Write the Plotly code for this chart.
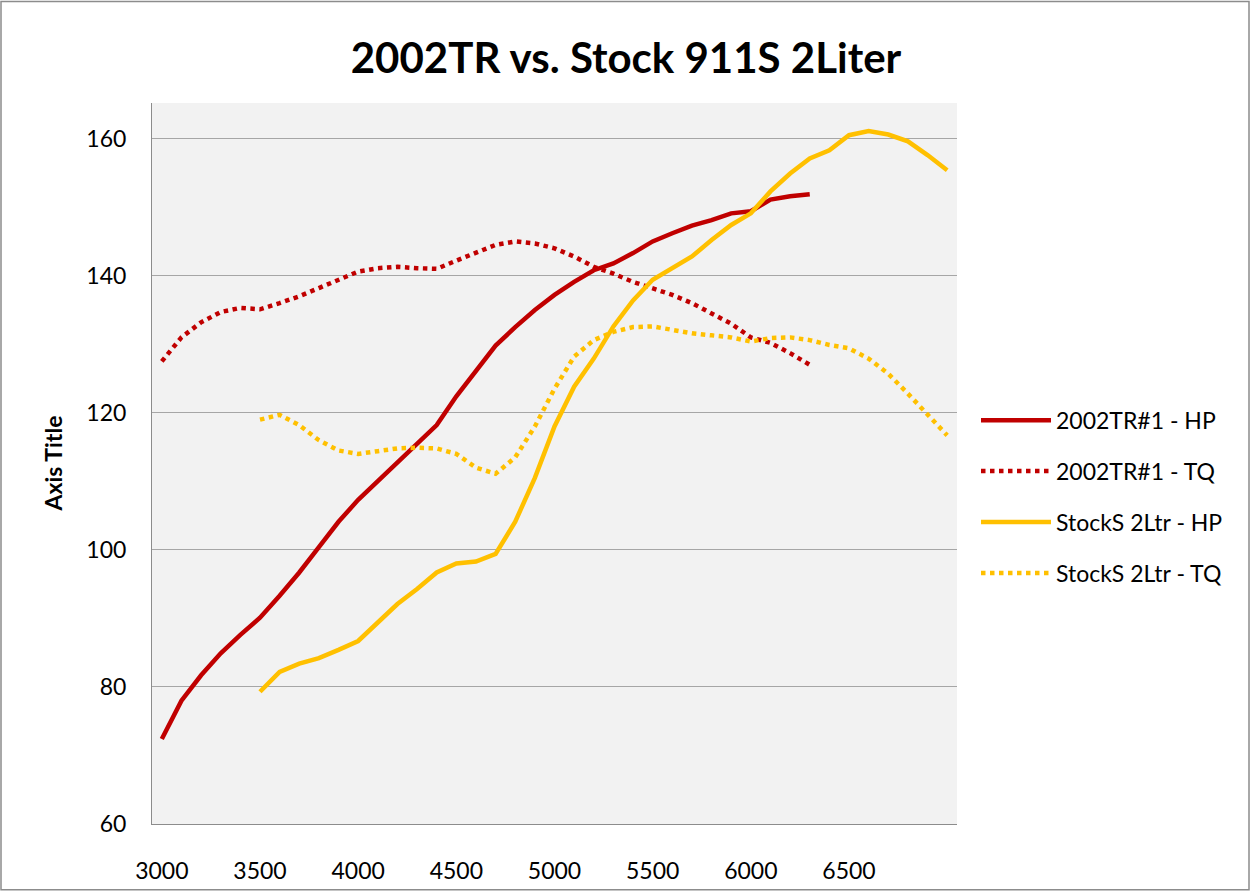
import plotly.graph_objects as go

# ---- data ----
rpm_tr = list(range(3000, 6301, 100))
hp_tr = [72.4, 78.0, 81.7, 84.9, 87.6, 90.1, 93.3, 96.7, 100.4, 104.1, 107.3, 110.0,
         112.8, 115.5, 118.2, 122.4, 126.1, 129.8, 132.5, 135.0, 137.2, 139.1, 140.8,
         141.8, 143.3, 145.0, 146.2, 147.3, 148.1, 149.1, 149.4, 151.1, 151.6, 151.9]
tq_tr = [127.5, 131.0, 133.2, 134.7, 135.3, 135.1, 136.0, 137.0, 138.2, 139.4, 140.6,
         141.1, 141.3, 141.1, 141.0, 142.2, 143.4, 144.5, 145.0, 144.7, 144.0, 142.8,
         141.3, 140.3, 139.1, 138.2, 137.2, 136.0, 134.5, 133.0, 131.0, 130.2, 128.7, 127.0]

rpm_st = list(range(3500, 7001, 100))
hp_st = [79.3, 82.2, 83.4, 84.2, 85.4, 86.7, 89.4, 92.1, 94.3, 96.7, 98.0, 98.3, 99.4,
         104.1, 110.5, 118.0, 123.8, 127.9, 132.6, 136.4, 139.4, 141.1, 142.8, 145.2,
         147.4, 149.1, 152.3, 154.9, 157.1, 158.3, 160.5, 161.1, 160.6, 159.6, 157.6, 155.4]
tq_st = [119.0, 119.7, 118.2, 116.0, 114.5, 114.0, 114.4, 114.8, 114.9, 114.8, 114.0,
         112.0, 111.1, 113.5, 118.0, 123.5, 128.2, 130.6, 131.8, 132.5, 132.6, 132.1,
         131.6, 131.3, 131.0, 130.4, 130.9, 131.0, 130.6, 129.9, 129.4, 127.9, 125.7,
         122.8, 119.7, 116.7]

x_ticks = [3000, 3500, 4000, 4500, 5000, 5500, 6000, 6500]
y_ticks = [60, 80, 100, 120, 140, 160]

series = [
    ("2002TR#1 - HP", rpm_tr, hp_tr, "#C00000", "solid"),
    ("2002TR#1 - TQ", rpm_tr, tq_tr, "#C00000", "dot"),
    ("StockS 2Ltr - HP", rpm_st, hp_st, "#FFC000", "solid"),
    ("StockS 2Ltr - TQ", rpm_st, tq_st, "#FFC000", "dot"),
]

FONT = "Lato"
fig = go.Figure()
for i, (name, xs, ys, col, dash) in enumerate(series):
    fig.add_trace(go.Scatter(
        x=xs, y=ys, mode="lines", name=name, legendgroup=f"g{i}",
        line=dict(color=col, width=4.5, dash=dash),
    ))

W, H = 1252, 896
L, R, T, B = 152, W - 957, 103, H - 827
pw, ph = W - L - R, H - T - B

def px2paper_x(px):
    return (px - L) / pw

def py2paper_y(py):
    return 1 - (py - T) / ph

fig.update_layout(
    width=W, height=H,
    margin=dict(l=L, r=R, t=T, b=B, pad=0),
    paper_bgcolor="white",
    plot_bgcolor="#F2F2F2",
    font=dict(family=FONT, color="#000000", size=23),
    title=dict(text="2002TR vs. Stock 911S 2Liter", x=0.5, xanchor="center",
               y=1 - 58 / H, yanchor="middle", yref="container",
               font=dict(family=FONT, size=42, weight=700, color="#000000")),
    showlegend=True,
    legend=dict(x=px2paper_x(976), xanchor="left", y=py2paper_y(400), yanchor="top",
                font=dict(family=FONT, size=23, color="#000000"),
                tracegroupgap=18, itemwidth=70, bgcolor="rgba(0,0,0,0)"),
    xaxis=dict(range=[2950, 7050], tickvals=x_ticks, ticktext=[str(v) for v in x_ticks],
               showgrid=False, zeroline=False, showline=True, linecolor="#8C8C8C",
               linewidth=1, ticks="outside", ticklen=26, tickcolor="rgba(0,0,0,0)",
               tickfont=dict(family=FONT, size=23)),
    yaxis=dict(range=[60, 165.2], tickvals=y_ticks, ticktext=[str(v) for v in y_ticks],
               showgrid=True, gridcolor="#A6A6A6", gridwidth=1.3, zeroline=False,
               showline=True, linecolor="#8C8C8C", linewidth=1,
               ticks="outside", ticklen=20, tickcolor="rgba(0,0,0,0)",
               tickfont=dict(family=FONT, size=23)),
    annotations=[dict(text="<b>Axis Title</b>", xref="paper", yref="paper",
                      x=px2paper_x(52), y=py2paper_y(465), xanchor="center", yanchor="middle",
                      textangle=-90, showarrow=False,
                      font=dict(family=FONT, size=23, color="#000000"))],
    shapes=[dict(type="rect", xref="paper", yref="paper",
                 x0=px2paper_x(1), x1=px2paper_x(1249), y0=py2paper_y(893), y1=py2paper_y(1),
                 line=dict(color="#8C8C8C", width=1.5), fillcolor="rgba(0,0,0,0)", layer="below")],
)

fig.write_html("out.html", config={"displayModeBar": False},
               post_script="document.body.style.margin='0';")
